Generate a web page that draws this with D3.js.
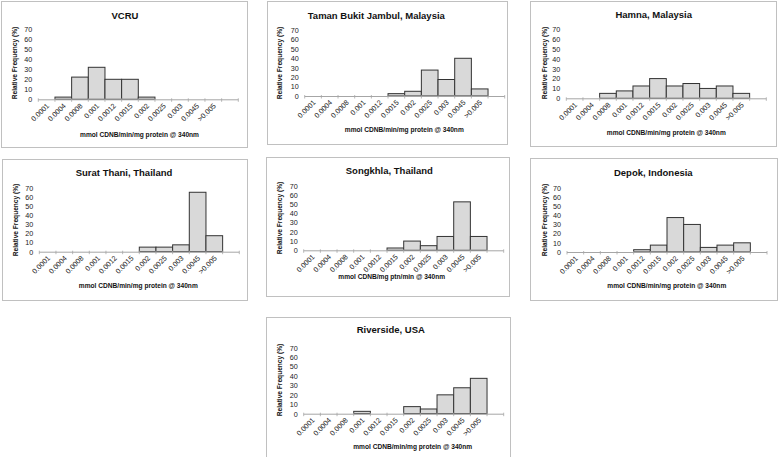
<!DOCTYPE html>
<html><head><meta charset="utf-8">
<script src="https://cdn.jsdelivr.net/npm/d3@7"></script>
<style>body{margin:0;background:#fff}svg{display:block}</style>
</head><body>
<script>
// ---------- data ----------
const categories = ["0.0001","0.0004","0.0008","0.001","0.0012","0.0015","0.002","0.0025","0.003","0.0045",">0.005",""];
const yTicks = [0,10,20,30,40,50,60,70];
const titles = ["VCRU","Taman Bukit Jambul, Malaysia","Hamna, Malaysia","Surat Thani, Thailand","Songkhla, Thailand","Depok, Indonesia","Riverside, USA"];
const xTitles = ["mmol CDNB/min/mg protein @ 340nm","mmol CDNB/min/mg protein @ 340nm","mmol CDNB/min/mg protein @ 340nm","mmol CDNB/min/mg protein @ 340nm","mmol CDNB/mg ptn/min @ 340nm","mmol CDNB/min/mg protein @ 340nm","mmol CDNB/min/mg protein @ 340nm"];
const yTitle = "Relative Frequency (%)";
const vcru      = [0,2.2,22.2,32,20,20,2.2,0,0,0,0,0];
const taman     = [0,0,0,0,0,2.5,5,27.5,17.5,40,7.5,0];
const hamna     = [0,0,5,7.5,12.5,20,12.5,15,10,12.5,5,0];
const surat     = [0,0,0,0,0,0,5,5,7.5,65,17.5,0];
const songkhla  = [0,0,0,0,0,2.5,10,5,15,52.5,15,0];
const depok     = [0,0,0,0,2.5,7.5,37.5,30,5,7.5,10,0];
const riverside = [0,0,0,2.5,0,0,7.5,5,20,27.5,37.5,0];
const seriesList = [vcru,taman,hamna,surat,songkhla,depok,riverside];

// ---------- layout ----------
const layout = [
 {box:[1,1,246,146], px:38.3, pb:99.3, ph:70, tx:125, ty:18.5, ax:139.5, ay:136.7, yx:17, yy:63},
 {box:[267,1,240,143], px:304.7, pb:96, ph:66, tx:376.3, ty:19, ax:404.3, ay:131.7, yx:282, yy:63},
 {box:[530,1,246,145], px:566.3, pb:98.3, ph:69, tx:653.7, ty:18.3, ax:666.3, ay:135, yx:547, yy:63},
 {box:[2,159,245,141], px:39.3, pb:251.7, ph:64, tx:124, ty:176, ax:138.3, ay:288.3, yx:17.5, yy:220},
 {box:[266,157,243,139], px:303.7, pb:250.3, ph:64.6, tx:389.3, ty:174, ax:391.7, ay:278.7, yx:282, yy:218},
 {box:[530,158,247,142], px:567, pb:252, ph:64.3, tx:653.3, ty:176, ax:666.8, ay:288.3, yx:547, yy:220},
 {box:[266,317,244,141], px:303.7, pb:413.7, ph:66, tx:390.8, ty:333.3, ax:412.7, ay:448.7, yx:282, yy:380}
];
const plotW = 200;
const FONT = "'Liberation Sans', Arial, sans-serif";

const svg = d3.select("body").append("svg").attr("width",778).attr("height",457)
  .style("font-family",FONT);

seriesList.forEach((vals,i)=>{
  const L = layout[i];
  const g = svg.append("g");
  g.append("rect").attr("x",L.box[0]+0.5).attr("y",L.box[1]+0.5)
    .attr("width",L.box[2]).attr("height",L.box[3])
    .attr("fill","#fff").attr("stroke","#c0c0c0").attr("stroke-width",1);

  const x = d3.scaleBand().domain(categories.map((c,k)=>k)).range([L.px, L.px+plotW]).padding(0);
  const y = d3.scaleLinear().domain([0,70]).range([L.pb, L.pb-L.ph]);

  // title
  g.append("text").attr("x",L.tx).attr("y",L.ty).attr("text-anchor","middle")
    .attr("font-size",9.5).attr("font-weight","bold").attr("fill","#111").text(titles[i]);

  // y axis labels (no line)
  const ya = g.append("g").attr("transform",`translate(${L.px},0)`)
    .call(d3.axisLeft(y).tickValues(yTicks).tickSize(0).tickPadding(6));
  ya.select(".domain").remove();
  ya.selectAll("text").attr("font-size",7.2).attr("fill","#222").style("font-family",FONT);

  // bars
  g.selectAll(".bar").data(vals.map((v,k)=>({k,v})).filter(d=>d.v>0)).join("rect")
    .attr("x",d=>x(d.k)).attr("width",x.bandwidth())
    .attr("y",d=>y(d.v)).attr("height",d=>y(0)-y(d.v))
    .attr("fill","#d9d9d9").attr("stroke","#333").attr("stroke-width",1);

  // x axis line + boundary ticks
  g.append("line").attr("x1",L.px).attr("x2",L.px+plotW).attr("y1",L.pb+0.5).attr("y2",L.pb+0.5)
    .attr("stroke","#a6a6a6").attr("stroke-width",1);
  const bounds = d3.range(categories.length+1).map(k=>L.px + k*x.step());
  g.selectAll(".tk").data(bounds).join("line")
    .attr("x1",d=>d).attr("x2",d=>d).attr("y1",L.pb-1).attr("y2",L.pb+2.5)
    .attr("stroke","#a6a6a6").attr("stroke-width",0.8);

  // x tick labels rotated
  g.selectAll(".xl").data(categories.map((c,k)=>({c,k})).filter(d=>d.c!=="")).join("text")
    .attr("transform",d=>`translate(${x(d.k)+x.bandwidth()/2+3},${L.pb+7}) rotate(-45)`)
    .attr("text-anchor","end").attr("font-size",7.2).attr("fill","#222").text(d=>d.c);

  // axis titles
  g.append("text").attr("x",L.ax).attr("y",L.ay).attr("text-anchor","middle")
    .attr("font-size",6.6).attr("font-weight","bold").attr("fill","#111").text(xTitles[i]);
  g.append("text").attr("transform",`translate(${L.yx},${L.yy}) rotate(-90)`)
    .attr("text-anchor","middle").attr("font-size",6.6).attr("font-weight","bold")
    .attr("fill","#111").text(yTitle);
});
</script>
</body></html>
